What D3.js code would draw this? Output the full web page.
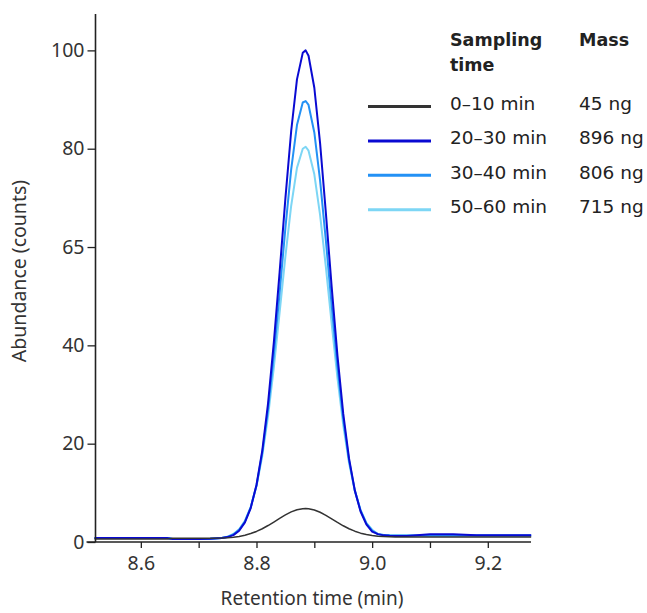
<!DOCTYPE html>
<html>
<head>
<meta charset="utf-8">
<script src="https://cdn.jsdelivr.net/npm/d3@7"></script>
<style>
  html, body { margin: 0; padding: 0; background: #fff; }
  svg { display: block; }
</style>
</head>
<body>
<svg id="chart" width="647" height="613"></svg>
<script>
// ---- data ----
const times = [8.52, 8.56, 8.60, 8.645, 8.655, 8.70, 8.72,
  8.74, 8.75, 8.76, 8.77, 8.78, 8.79, 8.80, 8.81, 8.82, 8.83, 8.84, 8.85, 8.86, 8.87, 8.88,
  8.885,
  8.89, 8.90, 8.91, 8.92, 8.93, 8.94, 8.95, 8.96, 8.97, 8.98, 8.99, 9.00, 9.01, 9.02, 9.03, 9.04,
  9.06, 9.10, 9.14, 9.18, 9.22, 9.275];

const abundance0to10 = [0.6, 0.6, 0.6, 0.6, 0.75, 0.75, 0.76,
  0.8, 0.87, 0.98, 1.14, 1.38, 1.72, 2.15, 2.7, 3.35, 4.06, 4.8, 5.5, 6.12, 6.57, 6.78,
  6.8,
  6.77, 6.52, 6.05, 5.43, 4.72, 3.99, 3.3, 2.7, 2.2, 1.8, 1.52, 1.32, 1.19, 1.11, 1.06, 1.03,
  1.01, 1.0, 1.0, 1.0, 1.0, 1.0];

const abundance20to30 = [0.8, 0.8, 0.8, 0.8, 0.6, 0.6, 0.65,
  0.8, 1.0, 1.4, 2.3, 4.0, 6.9, 11.6, 18.6, 28.2, 40.6, 54.9, 69.9, 83.6, 94.1, 99.5,
  100,
  98.9, 92.4, 81.1, 66.9, 51.9, 37.9, 26.1, 17.0, 10.5, 6.2, 3.6, 2.1, 1.6, 1.35, 1.25, 1.2,
  1.2, 1.6, 1.6, 1.35, 1.35, 1.35];

const abundance30to40 = [0.8, 0.8, 0.8, 0.8, 0.6, 0.6, 0.65,
  0.8, 1.05, 1.52, 2.47, 4.18, 7.04, 11.5, 18.1, 27.0, 38.1, 50.7, 63.9, 75.8, 84.8, 89.4,
  89.7,
  88.9, 83.3, 73.5, 61.3, 48.1, 35.7, 25.0, 16.6, 10.5, 6.4, 3.8, 2.3, 1.6, 1.45, 1.35, 1.3,
  1.3, 1.3, 1.3, 1.3, 1.3, 1.3];

const abundance50to60 = [0.8, 0.8, 0.8, 0.8, 0.6, 0.6, 0.65,
  0.82, 1.09, 1.62, 2.6, 4.3, 7.1, 11.4, 17.5, 25.6, 35.5, 46.7, 58.1, 68.4, 76.1, 80.0,
  80.4,
  79.6, 74.8, 66.5, 55.9, 44.4, 33.4, 23.8, 16.1, 10.4, 6.5, 3.9, 2.5, 1.6, 1.45, 1.35, 1.3,
  1.3, 1.3, 1.3, 1.3, 1.3, 1.3];

const samplingTimes = ["0\u201310 min", "20\u201330 min", "30\u201340 min", "50\u201360 min"];
const masses = ["45 ng", "896 ng", "806 ng", "715 ng"];
const seriesColors = ["#333333", "#0a0ad2", "#2391f5", "#7dd6f5"];

const xTicks = [8.6, 8.7, 8.8, 8.9, 9.0, 9.1, 9.2];
const xTickLabels = ["8.6", "", "8.8", "", "9.0", "", "9.2"];
const yTicks = [0, 20, 40, 60, 80, 100];
const yTickLabels = ["0", "20", "40", "65", "80", "100"];

const xTitle = "Retention time (min)";
const yTitle = "Abundance (counts)";
const legendHeader1 = ["Sampling", "time"];
const legendHeader2 = "Mass";

// ---- drawing ----
const series = [abundance0to10, abundance20to30, abundance30to40, abundance50to60];
const drawOrder = [3, 2, 1, 0];

const svg = d3.select("#chart");
const plotLeft = 95.5, plotRight = 531, plotTop = 14, plotBottom = 542;

const x = d3.scaleLinear().domain([8.5216, 9.2747]).range([plotLeft, plotRight]);
const y = d3.scaleLinear().domain([0, 107.4]).range([plotBottom, plotTop]);

const axisFont = "'Noto Sans', 'Liberation Sans', Arial, sans-serif";
const legendFont = "'DejaVu Sans', 'Noto Sans', sans-serif";

const line = d3.line()
  .x((d, i) => x(times[i]))
  .y(d => y(d))
  .curve(d3.curveLinear);

const g = svg.append("g");
drawOrder.forEach(k => {
  g.append("path")
    .datum(series[k])
    .attr("d", line)
    .attr("fill", "none")
    .attr("stroke", seriesColors[k])
    .attr("stroke-width", k === 0 ? 1.5 : 2)
    .attr("stroke-linejoin", "round");
});

// x axis
const xAxis = d3.axisBottom(x)
  .tickValues(xTicks)
  .tickFormat((d, i) => xTickLabels[i])
  .tickSize(6)
  .tickPadding(8)
  .tickSizeOuter(0);
const gx = svg.append("g")
  .attr("transform", `translate(0,${plotBottom})`)
  .call(xAxis);
gx.select(".domain").attr("stroke", "#222").attr("stroke-width", 1.6)
  .attr("d", `M${plotLeft - 9},0H${plotRight}`);
gx.selectAll(".tick line").attr("stroke", "#222").attr("stroke-width", 1.3);
gx.selectAll(".tick text")
  .attr("font-family", axisFont)
  .attr("font-size", 19.5)
  .attr("fill", "#333");

// y axis
const yAxis = d3.axisLeft(y)
  .tickValues(yTicks)
  .tickFormat((d, i) => yTickLabels[i])
  .tickSize(8)
  .tickPadding(3)
  .tickSizeOuter(0);
const gy = svg.append("g")
  .attr("transform", `translate(${plotLeft},0)`)
  .call(yAxis);
gy.select(".domain").attr("stroke", "#222").attr("stroke-width", 1.6)
  .attr("d", `M0,${plotTop}V${plotBottom}`);
gy.selectAll(".tick line").attr("stroke", "#222").attr("stroke-width", 1.3);
gy.selectAll(".tick text")
  .attr("font-family", axisFont)
  .attr("font-size", 19.5)
  .attr("fill", "#333");

// axis titles
svg.append("text")
  .attr("x", 312)
  .attr("y", 605)
  .attr("text-anchor", "middle")
  .attr("font-family", axisFont)
  .attr("font-size", 19)
  .attr("fill", "#333")
  .text(xTitle);

svg.append("text")
  .attr("transform", `translate(26,271) rotate(-90)`)
  .attr("text-anchor", "middle")
  .attr("font-family", axisFont)
  .attr("font-size", 19.5)
  .attr("fill", "#333")
  .text(yTitle);

// legend
const legend = svg.append("g");
legend.selectAll("text.h1")
  .data(legendHeader1)
  .join("text")
  .attr("class", "h1")
  .attr("x", 450)
  .attr("y", (d, i) => 46 + i * 24.5)
  .attr("font-family", legendFont)
  .attr("font-weight", "bold")
  .attr("font-size", 17.5)
  .attr("fill", "#222")
  .text(d => d);
legend.append("text")
  .attr("x", 579)
  .attr("y", 46)
  .attr("font-family", legendFont)
  .attr("font-weight", "bold")
  .attr("font-size", 17.5)
  .attr("fill", "#222")
  .text(legendHeader2);

const rowY = i => 110 + i * 34.4;
samplingTimes.forEach((label, i) => {
  legend.append("line")
    .attr("x1", 368).attr("x2", 431)
    .attr("y1", rowY(i) - 3.5).attr("y2", rowY(i) - 3.5)
    .attr("stroke", seriesColors[i])
    .attr("stroke-width", 3);
  legend.append("text")
    .attr("x", 450).attr("y", rowY(i))
    .attr("font-family", legendFont)
    .attr("font-size", 18.5)
    .attr("fill", "#222")
    .text(label);
  legend.append("text")
    .attr("x", 579).attr("y", rowY(i))
    .attr("font-family", legendFont)
    .attr("font-size", 18.5)
    .attr("fill", "#222")
    .text(masses[i]);
});
</script>
</body>
</html>
